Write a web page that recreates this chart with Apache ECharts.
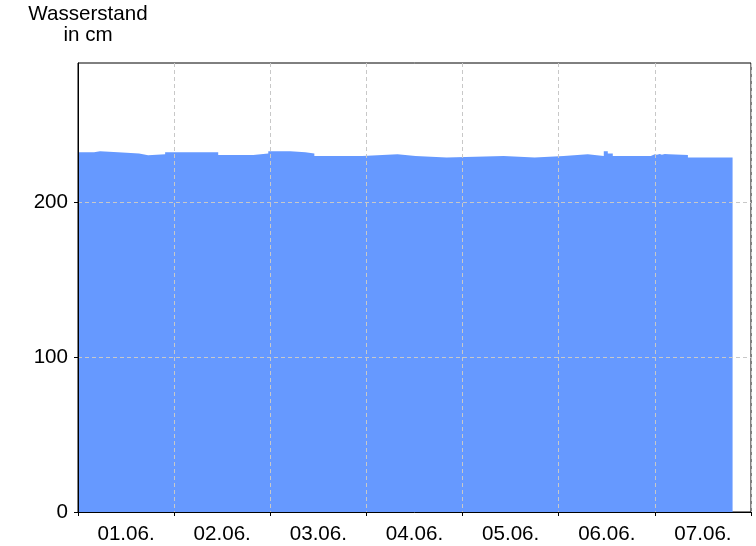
<!DOCTYPE html>
<html>
<head>
<meta charset="utf-8">
<script src="https://cdn.jsdelivr.net/npm/echarts@6/dist/echarts.min.js"></script>
<style>
  html, body { margin: 0; padding: 0; background: #fff; }
  #chart { width: 756px; height: 546px; }
</style>
</head>
<body>
<div id="chart"></div>
<script>
// Day labels (each covers one day band)
const days = ['01.06.', '02.06.', '03.06.', '04.06.', '05.06.', '06.06.', '07.06.'];
// Y tick labels
const yTicks = [0, 100, 200];
// Times (hours since 01.06. 00:00) at which the water level changes
const stepHours = [0, 4, 5.5, 10, 15.25, 17.5, 21.75, 35, 43.75, 47.5,
  53, 56.75, 59, 71, 79.75, 84.25, 92, 106.25, 114, 121.25,
  127.25, 131.25, 132.25, 133.5, 143, 144, 144.5, 145.25, 145.75, 146.5,
  147.5, 152.25, 162.25, 162.5, 163.4];
// Water level in cm from each time on
const levels = [232.4, 233, 232.4, 231.5, 230.4, 231.1, 232.4, 230.6, 231.5, 233,
  232.4, 231.5, 230, 231, 230, 229, 230, 229, 230, 231,
  230, 233, 231.5, 230, 231, 230.7, 231.2, 230.7, 231.2, 231,
  230.5, 229, 229.7, 229, 229];

const seriesData = stepHours.map((h, i) => [h, levels[i]]);

const chart = echarts.init(document.getElementById('chart'), null, { renderer: 'canvas' });
const font = '"Liberation Sans", Arial, sans-serif';
const fs = 20.6;
const gridLine = { show: true, lineStyle: { color: '#c8c8c8', type: [4, 3], width: 1 } };

chart.setOption({
  animation: false,
  backgroundColor: '#ffffff',
  graphic: [{
    type: 'text',
    x: 88,
    y: 4,
    style: {
      text: 'Wasserstand\nin cm',
      font: fs + 'px ' + font,
      fill: '#000',
      textAlign: 'center',
      textVerticalAlign: 'top',
      lineHeight: 21
    }
  }],
  grid: {
    left: 78, top: 63, right: 5, bottom: 34,
    show: true, borderColor: '#000', borderWidth: 1, backgroundColor: 'transparent'
  },
  xAxis: [{
    type: 'value',
    min: 0, max: 168, interval: 24,
    z: 10,
    axisLine: { show: true, onZero: false, lineStyle: { color: '#000', width: 1 } },
    axisTick: { show: false },
    axisLabel: { show: false },
    splitLine: gridLine
  }, {
    type: 'category',
    position: 'bottom',
    data: days,
    boundaryGap: true,
    z: 10,
    axisLine: { show: false },
    axisTick: { show: true, length: 4, lineStyle: { color: '#000' } },
    axisLabel: { color: '#000', fontSize: fs, fontFamily: font, margin: 12 },
    splitLine: { show: false }
  }],
  yAxis: {
    type: 'value',
    min: 0, max: 290, interval: 100,
    z: 10,
    axisLine: { show: true, lineStyle: { color: '#000', width: 1 } },
    axisTick: { show: true, length: 4, customValues: yTicks, lineStyle: { color: '#000' } },
    axisLabel: { color: '#000', fontSize: fs, fontFamily: font, margin: 10, customValues: yTicks },
    splitLine: gridLine
  },
  series: [{
    type: 'line',
    xAxisIndex: 0,
    step: 'end',
    showSymbol: false,
    symbol: 'none',
    z: 2,
    lineStyle: { width: 0, color: '#6699ff' },
    itemStyle: { color: '#6699ff' },
    areaStyle: { color: '#6699ff', opacity: 1 },
    data: seriesData
  }]
});
</script>
</body>
</html>
